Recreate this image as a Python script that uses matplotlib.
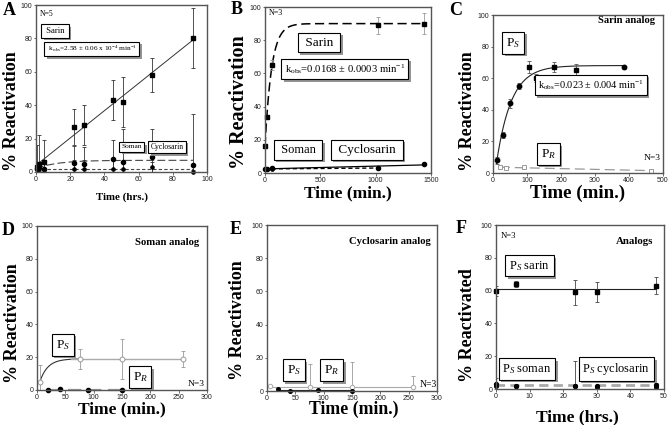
import numpy as np
import matplotlib
matplotlib.use('Agg')
import matplotlib.pyplot as plt
import matplotlib.patheffects as pe

plt.rcParams['font.family'] = 'Liberation Serif'
plt.rcParams['mathtext.fontset'] = 'custom'
plt.rcParams['mathtext.rm'] = 'Liberation Serif'
plt.rcParams['mathtext.it'] = 'Liberation Serif:italic'
plt.rcParams['mathtext.bf'] = 'Liberation Serif:bold'

# ---------------- data ----------------
# Panel A (hours)
a_t = [0.5, 2, 4.5, 22, 28, 45, 51, 68, 92]
a_sarin = [3, 5, 6, 27, 28, 43, 42, 58, 80]
a_sarin_err = [2, 17, 13, 11, 12, 12, 15, 10, 18]
a_soman = [2, 3, 2, 5.5, 5, 8, 6, 9, 4]
a_soman_err = [14, 3, 3, 10, 10, 11, 20, 17, 31]
a_cyclo = [2, 1.5, 1.5, 2, 2, 2, 2, 3, 0]
a_cyclo_err = [1, 1, 1, 5, 5, 5, 4, 3, 1]
a_soman_fit = (2.0, 5.0, 0.08)  # y0, amplitude, rate

# Panel B (min)
b_t = [0, 15, 60, 1020, 1440]
b_sarin = [16, 34, 65, 89, 90]
b_sarin_err = [0, 0, 3, 5, 6.5]
b_soman = [2.5, 2.5, 2.8, 3.3, 5.5]
b_cyclo = [2.2, 2.3, 2.5, 3.0]
b_kobs, b_plateau, b_t0 = 0.0168, 90, 11.7

# Panel C (min)
c_ps_t = [12, 30, 50, 75, 105, 127, 180, 245, 385]
c_ps = [8, 24, 44, 55, 67, 60, 67, 65, 67]
c_ps_err = [2, 2, 3, 2, 4, 2.5, 3, 4, 1]
c_ps_marker = ['o', 'o', 'o', 'o', 's', 's', 's', 's', 'o']
c_pr_t = [20, 38, 90, 465]
c_pr = [4, 3, 3.5, 1.5]
c_kobs, c_plateau, c_t0 = 0.023, 68, 6

# Panel D (min)
d_ps_t = [5, 75, 150, 258]
d_ps = [5, 19, 19, 19]
d_ps_err = [10, 6, 12, 5]
d_pr_t = [20, 40, 90, 150]
d_pr = [0, 0.5, 0, 0]

# Panel E (min)
e_ps_t = [5, 75, 150, 258]
e_ps = [3, 2.5, 2.5, 2.5]
e_ps_err_up = [0, 14, 15, 6.5]
e_pr_t = [20, 40, 90, 150]
e_pr = [1.5, 0, 0.5, 0]

# Panel F (hours)
f_t = [0, 6, 23.5, 30, 47.5]
f_sarin = [60, 64, 59, 59, 63]
f_sarin_err = [3, 2, 7.5, 6, 5]
f_soman = [3, 2, 2, 2, 2.5]
f_soman_err = [4, 0, 15, 0, 1]
f_cyclo = [2, 2, 2, 1, 1]

W, H = 672, 425
fig = plt.figure(figsize=(6.72, 4.25), dpi=100)

def add_ax(l, r, t, b):
    return fig.add_axes([l / W, (H - b) / H, (r - l) / W, (b - t) / H])

def style(ax, xmax, xstep):
    ax.set_xlim(0, xmax)
    ax.set_ylim(0, 100)
    ax.set_xticks(np.arange(0, xmax + 0.01, xstep))
    ax.set_yticks(range(0, 101, 20))
    for s in ax.spines.values():
        s.set_color('#555555')
        s.set_linewidth(1.0)
    ax.tick_params(length=1.8, width=0.6, color='#555555', labelsize=5, pad=0.8,
                   labelcolor='#222222')
    for lab in ax.get_xticklabels() + ax.get_yticklabels():
        lab.set_family('Liberation Sans')

def ylab(x, y, s, fs):
    fig.text(x / W, 1 - y / H, s, ha='center', va='center', rotation=90, fontsize=fs,
             fontweight='bold')

def xlab(x, yb, s, fs):
    fig.text(x / W, 1 - yb / H, s, ha='center', va='baseline', fontsize=fs, fontweight='bold')

def letter(x, yb, s):
    fig.text(x / W, 1 - yb / H, s, ha='center', va='baseline', fontsize=13, fontweight='bold')

def box(ax, x, y, s, fs, pad=0.3):
    t = ax.text(x, y, s, transform=ax.transAxes, ha='center', va='center', fontsize=fs,
                bbox=dict(boxstyle='square,pad=%g' % pad, fc='white', ec='black', lw=0.8),
                zorder=10)
    t.get_bbox_patch().set_path_effects([
        pe.SimplePatchShadow(offset=(1.8, -1.8), shadow_rgbFace='#888888', alpha=0.9),
        pe.Normal()])
    return t

def ebar(ax, x, y, err, color):
    ax.errorbar(x, y, yerr=err, fmt='none', ecolor=color, elinewidth=0.6, capsize=1.5,
                capthick=0.6)

PS = r'P$_{\mathit{S}}$'
PR = r'P$_{\mathit{R}}$'

# ---------------- Panel A ----------------
ax = add_ax(36, 207, 5, 172)
style(ax, 100, 20)
coef = np.polyfit(a_t, a_sarin, 1)
tl = np.linspace(0, max(a_t), 50)
ax.plot(tl, np.polyval(coef, tl), color='#333333', lw=0.7)
y0, amp, k = a_soman_fit
ax.plot(tl, y0 + amp * (1 - np.exp(-k * tl)), color='#444444', lw=0.8, dashes=(7, 3))
ax.plot(tl, np.full_like(tl, np.mean(a_cyclo)), color='#444444', lw=0.8, dashes=(3, 2))
ebar(ax, a_t, a_soman, a_soman_err, '#333333')
ebar(ax, a_t, a_cyclo, a_cyclo_err, '#333333')
ebar(ax, a_t, a_sarin, a_sarin_err, '#333333')
ax.plot(a_t, a_soman, 'o', ms=3, color='black', clip_on=False)
ax.plot(a_t, a_cyclo, 'o', ms=2.3, color='black', clip_on=False)
ax.plot(a_t, a_sarin, 's', ms=3.2, color='black', clip_on=False)
ax.text(0.023, 0.945, 'N=5', transform=ax.transAxes, fontsize=5.5, va='center')
box(ax, 0.111, 0.844, ' Sarin ', 6.2)
box(ax, 0.327, 0.737, r' k$_{\mathrm{obs}}$=2.58 ± 0.06 x 10$^{-4}$ min$^{-1}$ ', 5.2)
box(ax, 0.561, 0.150, 'Soman', 5.3)
box(ax, 0.766, 0.150, 'Cyclosarin', 5.5)
ylab(12, 111, '% Reactivation', 13)
xlab(122, 200, 'Time (hrs.)', 7.8)
letter(9, 15, 'A')

# ---------------- Panel B ----------------
ax = add_ax(265, 431, 7, 173)
style(ax, 1500, 500)
tl = np.linspace(0, max(b_t), 400)
ax.plot(tl, b_plateau * (1 - np.exp(-b_kobs * (tl + b_t0))), color='black', lw=1.1,
        dashes=(6, 3))
cb = np.polyfit(b_t, b_soman, 1)
ax.plot(tl, np.polyval(cb, tl), color='black', lw=0.9)
tc = np.linspace(0, b_t[len(b_cyclo) - 1], 100)
ax.plot(tc, np.interp(tc, b_t[:len(b_cyclo)], b_cyclo), color='black', lw=1.0, dashes=(3, 2))
ebar(ax, b_t, b_sarin, b_sarin_err, '#999999')
ax.plot(b_t, b_sarin, 's', ms=3, color='black', clip_on=False)
ax.plot(b_t, b_soman, 'o', ms=3, color='black', clip_on=False)
ax.plot(b_t[:len(b_cyclo)], b_cyclo, 'o', ms=2.3, color='black', clip_on=False)
ax.text(0.024, 0.964, 'N=3', transform=ax.transAxes, fontsize=5.8, va='center')
box(ax, 0.325, 0.786, ' Sarin ', 9.5)
box(ax, 0.48, 0.627, r'k$_{\mathrm{obs}}$=0.0168 ± 0.0003 min$^{-1}$', 7.7)
box(ax, 0.20, 0.139, ' Soman ', 9)
box(ax, 0.612, 0.139, ' Cyclosarin ', 9.5)
ylab(239, 102, '% Reactivation', 14.5)
xlab(348, 197, 'Time (min.)', 12.5)
letter(237, 14, 'B')

# ---------------- Panel C ----------------
ax = add_ax(493, 663, 15, 173)
style(ax, 500, 100)
tl = np.linspace(min(c_ps_t) - 2, max(c_ps_t), 300)
ax.plot(tl, c_plateau * (1 - np.exp(-c_kobs * (tl - c_t0))), color='#222222', lw=0.8)
cr = np.polyfit(c_pr_t, c_pr, 1)
tr = np.linspace(min(c_pr_t), max(c_pr_t), 50)
ax.plot(tr, np.polyval(cr, tr), color='#999999', lw=0.9, dashes=(8, 4))
ebar(ax, c_ps_t, c_ps, c_ps_err, '#555555')
for t, y, m in zip(c_ps_t, c_ps, c_ps_marker):
    ax.plot(t, y, m, ms=3.2, color='black', clip_on=False)
ax.plot(c_pr_t, c_pr, 's', ms=3, mfc='white', mec='#999999', mew=0.7, clip_on=False)
ax.text(0.951, 0.964, 'Sarin analog', transform=ax.transAxes, fontsize=7.6, fontweight='bold',
        ha='right', va='center')
box(ax, 0.12, 0.825, PS, 9.5)
box(ax, 0.575, 0.557, r'k$_{\mathrm{obs}}$=0.023 ± 0.004 min$^{-1}$', 7.4)
box(ax, 0.324, 0.12, PR, 9.5)
ax.text(0.986, 0.093, 'N=3', transform=ax.transAxes, fontsize=6.8, ha='right', va='center')
ylab(467, 111, '% Reactivation', 13)
xlab(578, 198, 'Time (min.)', 13.6)
letter(456, 15, 'C')

# ---------------- Panel D ----------------
ax = add_ax(37, 207, 226, 390)
style(ax, 300, 50)
tl = np.linspace(d_ps_t[0], d_ps_t[1], 100)
ax.plot(tl, d_ps[1] - (d_ps[1] - d_ps[0]) * np.exp(-(tl - d_ps_t[0]) / 14), color='#333333',
        lw=0.8)
ax.plot([60, d_ps_t[-1]], [np.mean(d_ps[1:])] * 2, color='#aaaaaa', lw=1.0)
ax.plot(d_pr_t, np.full(len(d_pr_t), np.mean(d_pr)), color='#999999', lw=1.6, dashes=(6, 3),
        clip_on=False)
ebar(ax, d_ps_t, d_ps, d_ps_err, '#999999')
ax.plot(d_ps_t, d_ps, 'o', ms=3.5, mfc='white', mec='#999999', mew=0.7, clip_on=False)
ax.plot(d_pr_t, d_pr, 'o', ms=3, color='black', clip_on=False)
ax.text(0.955, 0.902, 'Soman analog', transform=ax.transAxes, fontsize=7.7, fontweight='bold',
        ha='right', va='center')
box(ax, 0.151, 0.276, PS, 9.5)
box(ax, 0.606, 0.079, PR, 9.5)
ax.text(0.988, 0.035, 'N=3', transform=ax.transAxes, fontsize=6.8, ha='right', va='center')
ylab(13, 323, '% Reactivation', 13)
xlab(122, 413, 'Time (min.)', 12.5)
letter(8, 235, 'D')

# ---------------- Panel E ----------------
ax = add_ax(267, 437, 225, 391)
style(ax, 300, 50)
ax.plot(e_ps_t, np.full(len(e_ps_t), np.mean(e_ps[1:])), color='#aaaaaa', lw=0.8)
ax.plot(e_pr_t, np.full(len(e_pr_t), np.mean(e_pr)), color='#222222', lw=0.8)
ax.errorbar(e_ps_t, e_ps, yerr=[[0] * len(e_ps_t), e_ps_err_up], fmt='none',
            ecolor='#999999', elinewidth=0.6, capsize=1.5, capthick=0.6)
ax.plot(e_ps_t, e_ps, 'o', ms=3.2, mfc='white', mec='#aaaaaa', mew=0.7, clip_on=False)
ax.plot(e_pr_t, e_pr, 'o', ms=2.6, color='black', clip_on=False)
ax.text(0.965, 0.902, 'Cyclosarin analog', transform=ax.transAxes, fontsize=7.7,
        fontweight='bold', ha='right', va='center')
box(ax, 0.157, 0.125, PS, 9.5)
box(ax, 0.382, 0.125, PR, 9.5)
ax.text(0.997, 0.04, 'N=3', transform=ax.transAxes, fontsize=7, ha='right', va='center')
ylab(237, 320, '% Reactivation', 13)
xlab(354, 414, 'Time (min.)', 12.8)
letter(236, 234, 'E')

# ---------------- Panel F ----------------
ax = add_ax(496, 664, 225, 389)
style(ax, 50, 10)
ax.plot([f_t[0], f_t[-1]], [np.mean(f_sarin)] * 2, color='#222222', lw=0.8)
ax.plot([f_t[0], f_t[-1]], [np.mean(f_soman)] * 2, color='#aaaaaa', lw=1.3, dashes=(5, 3))
ax.plot([f_t[0], f_t[-1]], [np.mean(f_cyclo)] * 2, color='#aaaaaa', lw=1.3, dashes=(5, 3))
ebar(ax, f_t, f_sarin, f_sarin_err, '#444444')
ebar(ax, f_t, f_soman, f_soman_err, '#444444')
ax.plot(f_t, f_sarin, 's', ms=3.2, color='black', clip_on=False)
ax.plot(f_t, f_soman, 'o', ms=2.8, color='black', clip_on=False)
ax.plot(f_t, f_cyclo, 'o', ms=2.6, color='black', clip_on=False)
ax.text(0.03, 0.935, 'N=3', transform=ax.transAxes, fontsize=6.2, va='center')
ax.text(0.934, 0.898, 'Analogs', transform=ax.transAxes, fontsize=7.8, fontweight='bold',
        ha='right', va='center')
box(ax, 0.199, 0.752, PS + ' sarin', 9)
box(ax, 0.185, 0.122, PS + ' soman', 9)
box(ax, 0.717, 0.122, PS + ' cyclosarin', 9)
ylab(467, 325, '% Reactivated', 13)
xlab(577, 421, 'Time (hrs.)', 12.5)
letter(461, 233, 'F')

fig.savefig('out.png', dpi=100)
